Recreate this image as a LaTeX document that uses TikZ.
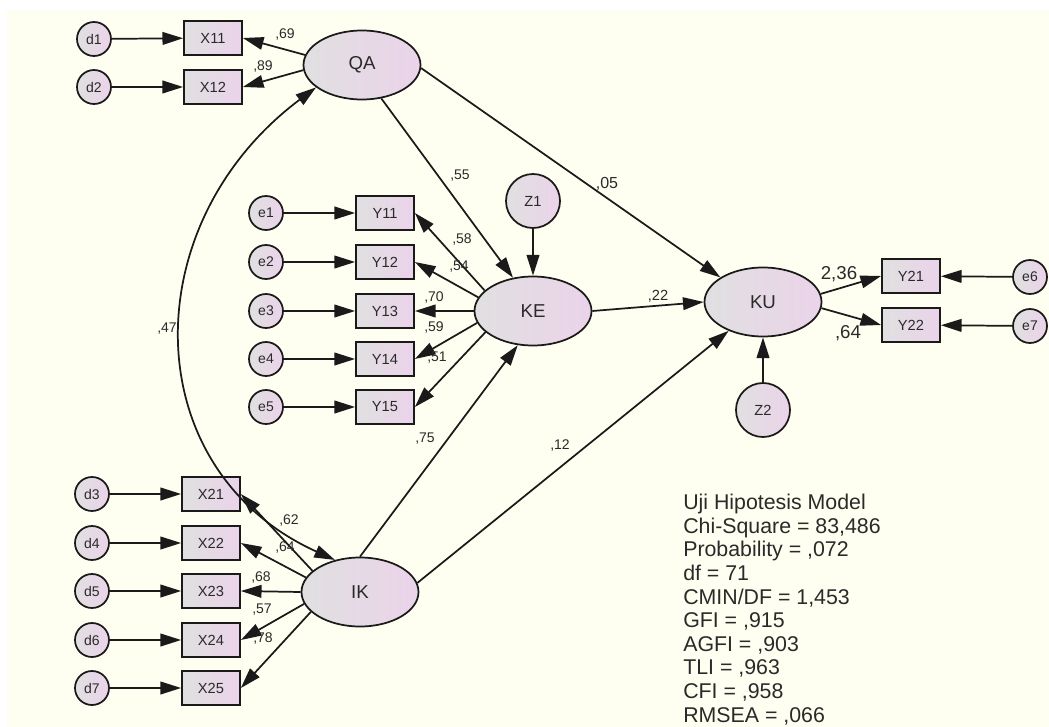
\documentclass[tikz,border=0pt]{standalone}
\usepackage{fontspec}
\setmainfont{Liberation Sans}
\usetikzlibrary{arrows.meta,shapes.geometric}

\definecolor{bgcream}{HTML}{FEFFF0}
\definecolor{fillL}{HTML}{E0E0E0}
\definecolor{fillR}{HTML}{EBD3EA}
\definecolor{ink}{HTML}{1A1A1A}
\definecolor{txt}{HTML}{2A2A2A}

\tikzset{
  tipT/.tip={Triangle[length=15.5pt,width=9.5pt]},
  conn/.style={draw=ink, line width=1.3pt, -tipT},
  covar/.style={draw=ink, line width=1.3pt, tipT-tipT},
  nodefill/.style={draw=ink, line width=1.3pt, left color=fillL, right color=fillR, text=txt, inner sep=0pt},
  errc/.style={nodefill, circle, minimum size=25.5pt, font=\fontsize{10.5}{12}\selectfont},
  distc/.style={nodefill, circle, minimum size=40.5pt, font=\fontsize{11}{12}\selectfont},
  obs/.style={nodefill, rectangle, minimum width=43.5pt, minimum height=25.5pt, font=\fontsize{11}{12}\selectfont},
  lat/.style={nodefill, ellipse, minimum width=87.75pt, minimum height=51.75pt, font=\fontsize{14}{15}\selectfont},
  lbl/.style={text=txt, inner sep=0pt, font=\fontsize{10.5}{12}\selectfont},
  lblbig/.style={text=txt, inner sep=0pt, font=\fontsize{14}{15}\selectfont},
}

\begin{document}
\begin{tikzpicture}[x=0.75pt, y=-0.75pt]
  % canvas
  \useasboundingbox (0,0) rectangle (1049,727);
  \fill[white] (0,0) rectangle (1049,727);
  \fill[bgcream] (7,10) rectangle (1049,727);

  % latent variables
  \node[lat] (QA) at (362,65) {QA};
  \node[lat] (KE) at (533,311) {KE};
  \node[lat] (IK) at (360,592) {IK};
  \node[lat] (KU) at (763,302) {KU};

  % disturbances
  \node[distc] (Z1) at (533,201) {Z1};
  \node[distc] (Z2) at (763,410) {Z2};

  % indicators of QA
  \node[obs] (X11) at (213,38) {X11};
  \node[obs] (X12) at (213,87) {X12};
  \node[errc] (d1) at (94,39) {d1};
  \node[errc] (d2) at (94,87) {d2};

  % indicators of KE
  \foreach \i/\yy in {1/213,2/262,3/311,4/359,5/407}{
    \node[obs] (Y1\i) at (385,\yy) {Y1\i};
    \node[errc] (e\i) at (266,\yy) {e\i};
    \draw[conn] (e\i) -- (Y1\i);
  }

  % indicators of IK
  \foreach \i/\yy in {1/494,2/543,3/591,4/640,5/688}{
    \pgfmathtruncatemacro{\dd}{\i+2}
    \node[obs] (X2\i) at (211,\yy) {X2\i};
    \node[errc] (d\dd) at (92,\yy) {d\dd};
    \draw[conn] (d\dd) -- (X2\i);
  }

  % indicators of KU
  \node[obs] (Y21) at (911,276) {Y21};
  \node[obs] (Y22) at (911,325) {Y22};
  \node[errc] (e6) at (1030,277) {e6};
  \node[errc] (e7) at (1030,326) {e7};

  % measurement paths
  \draw[conn] (d1) -- (X11);
  \draw[conn] (d2) -- (X12);
  \draw[conn] (QA.170) -- (X11.east);
  \draw[conn] (QA.185) -- (X12.east);

  \draw[conn] (KE.157) -- (Y11.east);
  \draw[conn] (KE.166) -- (Y12.east);
  \draw[conn] (KE.180) -- (Y13.east);
  \draw[conn] (KE.192) -- (Y14.east);
  \draw[conn] (KE.204) -- (Y15.east);

  \draw[conn] (IK.156) -- (X21.east);
  \draw[conn] (IK.165) -- (X22.east);
  \draw[conn] (IK.180) -- (X23.east);
  \draw[conn] (IK.192) -- (X24.east);
  \draw[conn] (IK.202) -- (X25.east);

  \draw[conn] (KU.8) -- (Y21.west);
  \draw[conn] (KU.354) -- (Y22.west);
  \draw[conn] (e6) -- (Y21);
  \draw[conn] (e7) -- (Y22);

  % structural paths
  \draw[conn] (QA.300) -- (KE.121);
  \draw[conn] (QA.357) -- (KU.150);
  \draw[conn] (Z1) -- (KE);
  \draw[conn] (KE.east) -- (KU.west);
  \draw[conn] (IK.north) -- (KE.246);
  \draw[conn] (IK.9) -- (KU.220);
  \draw[conn] (Z2) -- (KU);

  % correlation QA <-> IK
  \draw[covar] (QA.206) .. controls +(-183,137) and +(-199,-90) .. (IK.128);

  % coefficients
  \node[lbl] (c69) at (285,35) {,69};
  \node[lbl] (c89) at (263,67) {,89};
  \node[lbl] (c55) at (460,176) {,55};
  \node[lbl,font=\fontsize{12}{13}\selectfont] (c05) at (607,184) {,05};
  \node[lbl] (c58) at (462,240) {,58};
  \node[lbl] (c54) at (459,267) {,54};
  \node[lbl] (c70) at (434,298) {,70};
  \node[lbl] (c59) at (434,328) {,59};
  \node[lbl] (c51) at (437,358) {,51};
  \node[lbl,font=\fontsize{11}{12}\selectfont] (c22) at (658,296) {,22};
  \node[lbl] (c75) at (425,439) {,75};
  \node[lbl] (c12) at (560,446) {,12};
  \node[lbl] (c47) at (167,329) {,47};
  \node[lbl] (c62) at (289,521) {,62};
  \node[lbl] (c64a) at (285,548) {,64};
  \node[lbl] (c68) at (261,578) {,68};
  \node[lbl] (c57) at (262,610) {,57};
  \node[lbl] (c78) at (263,639) {,78};
  \node[lblbig] (c236) at (839,274) {2,36};
  \node[lblbig] (c64b) at (848,333) {,64};

  % fit statistics
  \node[anchor=north west, inner sep=0pt, align=left, text=txt,
        font=\fontsize{16}{17.7}\selectfont] (fit) at (683,494)
    {Uji Hipotesis Model\\
     Chi-Square = 83,486\\
     Probability = ,072\\
     df = 71\\
     CMIN/DF = 1,453\\
     GFI = ,915\\
     AGFI = ,903\\
     TLI = ,963\\
     CFI = ,958\\
     RMSEA = ,066};
\end{tikzpicture}
\end{document}
